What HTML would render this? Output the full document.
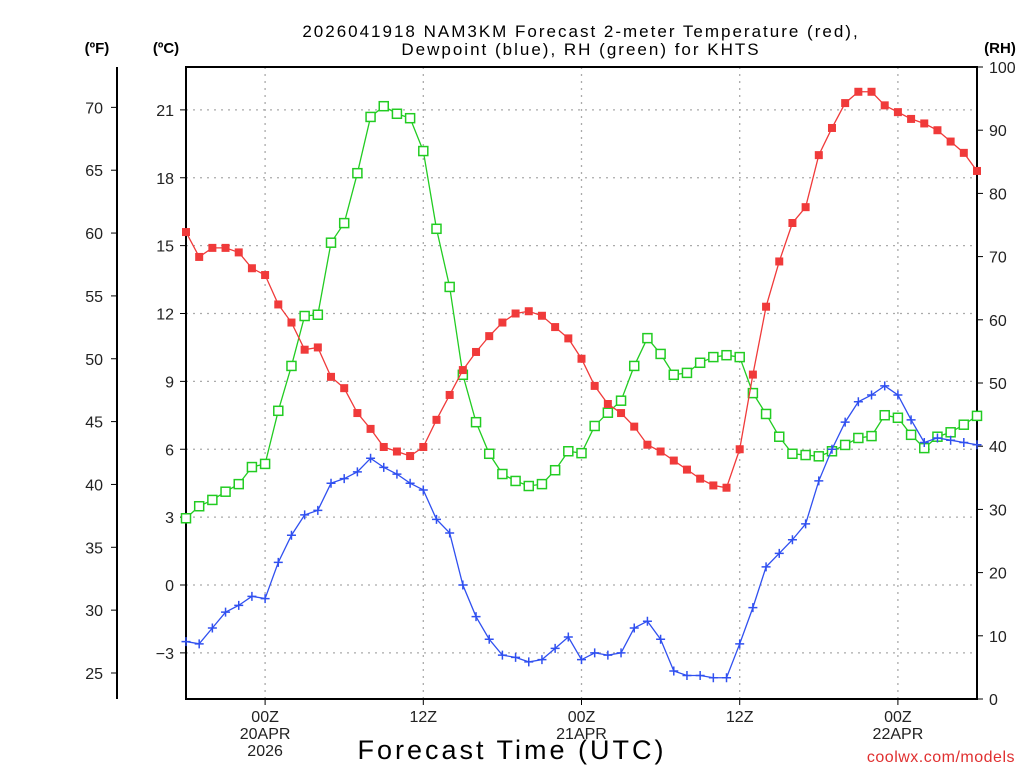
<!DOCTYPE html>
<html><head><meta charset="utf-8"><style>
html,body{margin:0;padding:0;background:#fff;}
svg{display:block;font-family:"Liberation Sans",sans-serif;}
</style></head><body>
<svg id="chart" width="1024" height="768" viewBox="0 0 1024 768" xmlns="http://www.w3.org/2000/svg">
<text x="581" y="37" text-anchor="middle" font-size="17" letter-spacing="2">2026041918 NAM3KM Forecast 2-meter Temperature (red),</text>
<text x="581" y="55" text-anchor="middle" font-size="17" letter-spacing="2">Dewpoint (blue), RH (green) for KHTS</text>
<text x="97" y="53" text-anchor="middle" font-size="15" font-weight="bold">(ºF)</text>
<text x="166" y="53" text-anchor="middle" font-size="15" font-weight="bold">(ºC)</text>
<text x="1000" y="53" text-anchor="middle" font-size="15" font-weight="bold">(RH)</text>
<text x="512" y="759" text-anchor="middle" font-size="27" letter-spacing="3">Forecast Time (UTC)</text>
<text x="1015" y="762" text-anchor="end" font-size="16" fill="#e03030" letter-spacing="0.5">coolwx.com/models</text>
<g id="grid"></g><g id="axes"></g><g id="series"></g>
</svg>
<script>
const hours = Array.from({length:61},(_,i)=>i); // forecast hour offsets from 18Z 19APR
const tempC = [15.6,14.5,14.9,14.9,14.7,14.0,13.7,12.4,11.6,10.4,10.5,9.2,8.7,7.6,6.9,6.1,5.9,5.7,6.1,7.3,8.4,9.5,10.3,11.0,11.6,12.0,12.1,11.9,11.4,10.9,10.0,8.8,8.0,7.6,7.0,6.2,5.9,5.5,5.1,4.7,4.4,4.3,6.0,9.3,12.3,14.3,16.0,16.7,19.0,20.2,21.3,21.8,21.8,21.2,20.9,20.6,20.4,20.1,19.6,19.1,18.3];
const dewC = [-2.5,-2.6,-1.9,-1.2,-0.9,-0.5,-0.6,1.0,2.2,3.1,3.3,4.5,4.7,5.0,5.6,5.2,4.9,4.5,4.2,2.9,2.3,0.0,-1.4,-2.4,-3.1,-3.2,-3.4,-3.3,-2.8,-2.3,-3.3,-3.0,-3.1,-3.0,-1.9,-1.6,-2.4,-3.8,-4.0,-4.0,-4.1,-4.1,-2.6,-1.0,0.8,1.4,2.0,2.7,4.6,6.0,7.2,8.1,8.4,8.8,8.4,7.3,6.3,6.5,6.4,6.3,6.2];
const rh = [28.6,30.5,31.5,32.8,34.0,36.7,37.2,45.6,52.7,60.6,60.8,72.2,75.3,83.2,92.1,93.8,92.6,91.9,86.7,74.4,65.2,51.3,43.8,38.8,35.6,34.5,33.7,34.0,36.2,39.2,38.9,43.2,45.3,47.2,52.7,57.1,54.6,51.3,51.6,53.2,54.1,54.4,54.1,48.4,45.1,41.5,38.8,38.6,38.4,39.2,40.2,41.3,41.6,44.9,44.5,41.8,39.7,41.5,42.2,43.4,44.8];
const cTicks = [-3,0,3,6,9,12,15,18,21];
const fTicks = [25,30,35,40,45,50,55,60,65,70];
const rhTicks = [0,10,20,30,40,50,60,70,80,90,100];
const xTickHours = [6,18,30,42,54];
const xTickLabels = [["00Z","20APR","2026"],["12Z"],["00Z","21APR"],["12Z"],["00Z","22APR"]];

const L=186,R=977,T=67,B=699;
const xs=h=>L+(R-L)*h/60;
const yC=c=>585-c*22.625;
const yF=f=>yC((f-32)*5/9);
const yRH=v=>B-(B-T)*v/100;
const NS="http://www.w3.org/2000/svg";
function mk(tag,attrs,parent,txt){const e=document.createElementNS(NS,tag);for(const k in attrs)e.setAttribute(k,attrs[k]);if(txt!==undefined)e.textContent=txt;parent.appendChild(e);return e;}
const grid=document.getElementById('grid'),axes=document.getElementById('axes'),ser=document.getElementById('series');

cTicks.forEach(c=>{const y=yC(c);
 const g=mk('line',{x1:L,x2:R,y1:y,y2:y,stroke:'#aaa','stroke-width':1.3,'stroke-dasharray':'2,5'},grid);
 
 mk('line',{x1:L-6,x2:L,y1:y,y2:y,stroke:'#000','stroke-width':1},axes);
 const t=mk('text',{x:L-12,y:y+6,'text-anchor':'end','font-size':16,fill:'#222'},axes,c===-3?'\u22123':String(c));
 
});
fTicks.forEach(f=>{const y=yF(f);
 mk('line',{x1:111,x2:117,y1:y,y2:y,stroke:'#000','stroke-width':1},axes);
 const t=mk('text',{x:103,y:y+6,'text-anchor':'end','font-size':16,fill:'#222'},axes,String(f));
 
});
rhTicks.forEach(v=>{const y=yRH(v);
 mk('line',{x1:R,x2:R+6,y1:y,y2:y,stroke:'#000','stroke-width':1},axes);
 const t=mk('text',{x:989,y:y+6,'text-anchor':'start','font-size':16,fill:'#222'},axes,String(v));
 
});
xTickHours.forEach((h,i)=>{const x=xs(h);
 const g=mk('line',{x1:x,x2:x,y1:T,y2:B,stroke:'#aaa','stroke-width':1.3,'stroke-dasharray':'2,5'},grid);
 
 mk('line',{x1:x,x2:x,y1:B,y2:B+6,stroke:'#000'},axes);
 xTickLabels[i].forEach((s,j)=>{const t=mk('text',{x:x,y:722+j*17,'text-anchor':'middle','font-size':16,fill:'#222'},axes,s);
  });
});
const fr=mk('rect',{x:L,y:T,width:R-L,height:B-T,fill:'none',stroke:'#000','stroke-width':2},axes);

const fa=mk('line',{x1:117,x2:117,y1:T,y2:B,stroke:'#000','stroke-width':2},axes);


function drawSeries(vals,yf,color,kind,name){
 const g=mk('g',{},ser);
 
 mk('polyline',{points:vals.map((v,i)=>xs(hours[i])+','+yf(v)).join(' '),fill:'none',stroke:color,'stroke-width':1.3},g);
 vals.forEach((v,i)=>{const x=xs(hours[i]),y=yf(v);let m;
  if(kind==='fill')m=mk('rect',{x:x-4,y:y-4,width:8,height:8,fill:color},g);
  else if(kind==='open')m=mk('rect',{x:x-4.5,y:y-4.5,width:9,height:9,fill:'#fff',stroke:color,'stroke-width':1.5},g);
  else m=mk('path',{d:`M${x-4.5} ${y}H${x+4.5}M${x} ${y-4.5}V${y+4.5}`,stroke:color,'stroke-width':1.5},g);
  
 });
}
drawSeries(rh,yRH,'#22cc22','open','rh-series');
drawSeries(dewC,yC,'#3050f0','plus','dewpoint-series');
drawSeries(tempC,yC,'#f03a3a','fill','temperature-series');
</script>
</body></html>
